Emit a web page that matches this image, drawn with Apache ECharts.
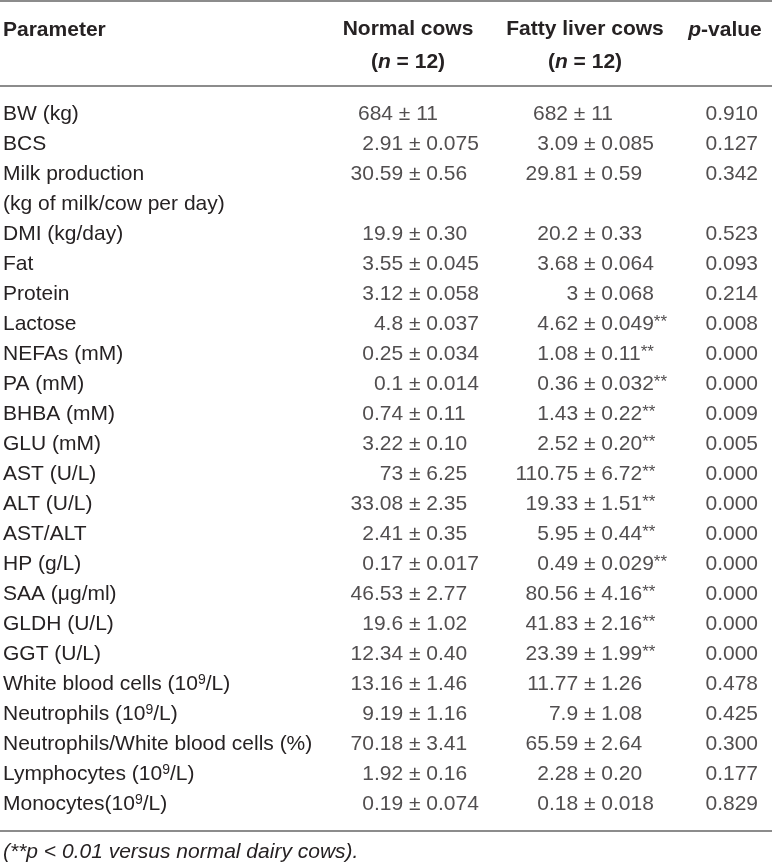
<!DOCTYPE html>
<html>
<head>
<meta charset="utf-8">
<script src="https://cdn.jsdelivr.net/npm/echarts@6/dist/echarts.min.js"></script>
<style>
html, body { margin: 0; padding: 0; background: #fff; }
#main { width: 772px; height: 864px; }
</style>
</head>
<body>
<div id="main"></div>
<script>
// table rows (the second line of "Milk production" is its own row, no values)
var rowLabels = ['BW (kg)', 'BCS', 'Milk production', '(kg of milk/cow per day)', 'DMI (kg/day)',
    'Fat', 'Protein', 'Lactose', 'NEFAs (mM)', 'PA (mM)', 'BHBA (mM)', 'GLU (mM)', 'AST (U/L)',
    'ALT (U/L)', 'AST/ALT', 'HP (g/L)', 'SAA (\u03bcg/ml)', 'GLDH (U/L)', 'GGT (U/L)',
    'White blood cells (10\u2079/L)', 'Neutrophils (10\u2079/L)', 'Neutrophils/White blood cells (%)',
    'Lymphocytes (10\u2079/L)', 'Monocytes(10\u2079/L)'];
var normalMean = ['684', '2.91', '30.59', null, '19.9', '3.55', '3.12', '4.8', '0.25', '0.1', '0.74',
    '3.22', '73', '33.08', '2.41', '0.17', '46.53', '19.6', '12.34', '13.16', '9.19', '70.18', '1.92', '0.19'];
var normalSE = ['11', '0.075', '0.56', null, '0.30', '0.045', '0.058', '0.037', '0.034', '0.014', '0.11',
    '0.10', '6.25', '2.35', '0.35', '0.017', '2.77', '1.02', '0.40', '1.46', '1.16', '3.41', '0.16', '0.074'];
var fattyMean = ['682', '3.09', '29.81', null, '20.2', '3.68', '3', '4.62', '1.08', '0.36', '1.43',
    '2.52', '110.75', '19.33', '5.95', '0.49', '80.56', '41.83', '23.39', '11.77', '7.9', '65.59', '2.28', '0.18'];
var fattySE = ['11', '0.085', '0.59', null, '0.33', '0.064', '0.068', '0.049', '0.11', '0.032', '0.22',
    '0.20', '6.72', '1.51', '0.44', '0.029', '4.16', '2.16', '1.99', '1.26', '1.08', '2.64', '0.20', '0.018'];
// 1 = marked ** (p < 0.01)
var fattySig = [0, 0, 0, 0, 0, 0, 0, 1, 1, 1, 1, 1, 1, 1, 1, 1, 1, 1, 1, 0, 0, 0, 0, 0];
var pValues = ['0.910', '0.127', '0.342', null, '0.523', '0.093', '0.214', '0.008', '0.000', '0.000', '0.009',
    '0.005', '0.000', '0.000', '0.000', '0.000', '0.000', '0.000', '0.000', '0.478', '0.425', '0.300', '0.177', '0.829'];

var FONT = 'Liberation Sans';
var INK = '#262223';
var RULE = '#8c8c8c';
var SIZE = 21;

// superscript 9 -> rich token
function supFmt(s) {
    return s.replace(/\u2079/g, '{sup|9}');
}

// split "a ± b.cd" on the decimal point of the SE so columns line up on it
function leftPart(mean, se) {
    var k = se.indexOf('.');
    return mean + ' \u00b1 ' + (k < 0 ? se : se.slice(0, k));
}
function rightPart(se, sig) {
    var k = se.indexOf('.');
    var s = k < 0 ? '' : se.slice(k);
    return s + (sig ? '{s|**}' : '');
}

function colData(x, means, ses, sig, part) {
    var out = [];
    for (var i = 0; i < rowLabels.length; i++) {
        if (means[i] == null) continue;
        var txt = part === 'left' ? leftPart(means[i], ses[i]) : rightPart(ses[i], sig ? sig[i] : 0);
        if (txt === '') continue;
        out.push({ value: [x, i], name: txt });
    }
    return out;
}

function pData(x) {
    var out = [];
    for (var i = 0; i < rowLabels.length; i++) {
        if (pValues[i] == null) continue;
        out.push({ value: [x, i], name: pValues[i] });
    }
    return out;
}

var baseLabel = {
    show: true,
    distance: 0,
    fontFamily: FONT,
    fontSize: SIZE,
    color: INK,
    formatter: function (p) { return p.name; },
    rich: {
        s: { fontFamily: FONT, fontSize: 17, color: INK, verticalAlign: 'top', lineHeight: 17 }
    }
};

function textSeries(data, pos) {
    return {
        type: 'scatter',
        symbolSize: 0,
        silent: true,
        data: data,
        label: Object.assign({}, baseLabel, { position: pos })
    };
}

var NORMAL_X = 438, FATTY_X = 613, P_X = 758;

var chart = echarts.init(document.getElementById('main'));
var option = {
    animation: false,
    backgroundColor: '#fff',
    textStyle: { fontFamily: FONT },
    grid: { left: 0, right: 0, top: 99, height: 720 },
    xAxis: { type: 'value', min: 0, max: 772, show: false },
    yAxis: {
        type: 'category',
        data: rowLabels,
        inverse: true,
        axisLine: { show: false },
        axisTick: { show: false },
        splitLine: { show: false },
        axisLabel: {
            inside: true,
            interval: 0,
            margin: 3,
            fontFamily: FONT,
            fontSize: SIZE,
            color: INK,
            formatter: supFmt,
            rich: {
                sup: { fontFamily: FONT, fontSize: 14, color: INK, verticalAlign: 'top', lineHeight: 12 }
            }
        }
    },
    series: [
        textSeries(colData(NORMAL_X, normalMean, normalSE, null, 'left'), 'left'),
        textSeries(colData(NORMAL_X, normalMean, normalSE, null, 'right'), 'right'),
        textSeries(colData(FATTY_X, fattyMean, fattySE, fattySig, 'left'), 'left'),
        textSeries(colData(FATTY_X, fattyMean, fattySE, fattySig, 'right'), 'right'),
        textSeries(pData(P_X), 'left')
    ],
    graphic: [
        { type: 'line', shape: { x1: 0, y1: 1, x2: 772, y2: 1 }, style: { stroke: RULE, lineWidth: 2 } },
        { type: 'line', shape: { x1: 0, y1: 86, x2: 772, y2: 86 }, style: { stroke: RULE, lineWidth: 2 } },
        { type: 'line', shape: { x1: 0, y1: 831, x2: 772, y2: 831 }, style: { stroke: RULE, lineWidth: 2 } },
        {
            type: 'text', x: 3, y: 30,
            style: { text: 'Parameter', font: 'bold 21px "' + FONT + '"', fill: INK, align: 'left', verticalAlign: 'middle' }
        },
        {
            type: 'text', x: 408, y: 46,
            style: {
                text: '{b|Normal cows}\n{b|(}{i|n}{b| = 12)}',
                align: 'center', verticalAlign: 'middle', fill: INK,
                rich: {
                    b: { font: 'bold 21px "' + FONT + '"', fill: INK, lineHeight: 33 },
                    i: { font: 'italic bold 21px "' + FONT + '"', fill: INK, lineHeight: 33 }
                }
            }
        },
        {
            type: 'text', x: 585, y: 46,
            style: {
                text: '{b|Fatty liver cows}\n{b|(}{i|n}{b| = 12)}',
                align: 'center', verticalAlign: 'middle', fill: INK,
                rich: {
                    b: { font: 'bold 21px "' + FONT + '"', fill: INK, lineHeight: 33 },
                    i: { font: 'italic bold 21px "' + FONT + '"', fill: INK, lineHeight: 33 }
                }
            }
        },
        {
            type: 'text', x: 725, y: 30,
            style: {
                text: '{i|p}{b|-value}',
                align: 'center', verticalAlign: 'middle', fill: INK,
                rich: {
                    b: { font: 'bold 21px "' + FONT + '"', fill: INK },
                    i: { font: 'italic bold 21px "' + FONT + '"', fill: INK }
                }
            }
        },
        {
            type: 'text', x: 3, y: 852,
            style: { text: '(**p < 0.01 versus normal dairy cows).', font: 'italic 21px "' + FONT + '"', fill: INK, align: 'left', verticalAlign: 'middle' }
        }
    ]
};
chart.setOption(option);
</script>
</body>
</html>
